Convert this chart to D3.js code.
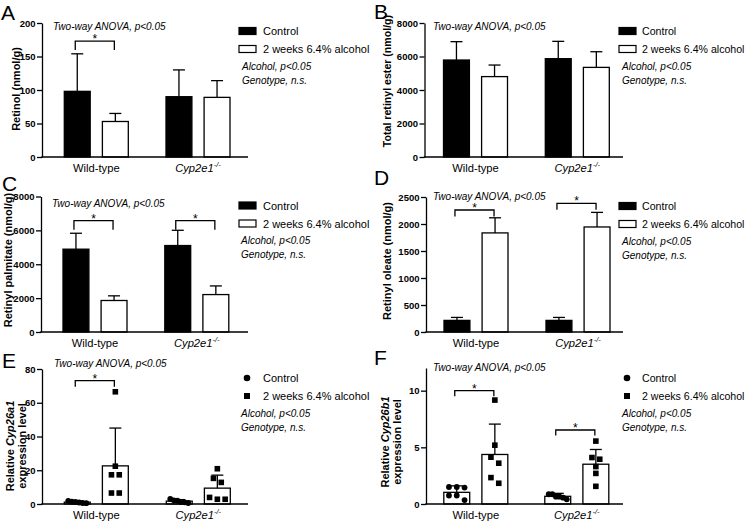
<!DOCTYPE html>
<html><head><meta charset="utf-8">
<script src="https://cdn.jsdelivr.net/npm/d3@7"></script>
<style>
body{margin:0;background:#fff;}
svg{display:block;}
</style></head><body>
<svg id="fig" width="749" height="522"></svg>
<script>
// ---------- data ----------
const groups = ["Wild-type", "Cyp2e1"];
const seriesNames = ["Control", "2 weeks 6.4% alcohol"];
const anovaText = "Two-way ANOVA, p<0.05";
const statLines = ["Alcohol, p<0.05", "Genotype, n.s."];

// A: retinol (nmol/g)
const retinolControl = [98, 90];
const retinolControlSD = [56, 40];
const retinolAlcohol = [53, 89];
const retinolAlcoholSD = [12, 25];
const retinolTicks = [0, 50, 100, 150, 200];

// B: total retinyl ester (nmol/g)
const esterControl = [5790, 5870];
const esterControlSD = [1095, 1035];
const esterAlcohol = [4800, 5350];
const esterAlcoholSD = [690, 935];
const esterTicks = [0, 2000, 4000, 6000, 8000];

// C: retinyl palmitate (nmol/g)
const palmitateControl = [4890, 5105];
const palmitateControlSD = [940, 900];
const palmitateAlcohol = [1860, 2210];
const palmitateAlcoholSD = [275, 510];
const palmitateTicks = [0, 2000, 4000, 6000, 8000];

// D: retinyl oleate (nmol/g)
const oleateControl = [215, 215];
const oleateControlSD = [55, 55];
const oleateAlcohol = [1835, 1945];
const oleateAlcoholSD = [280, 270];
const oleateTicks = [0, 500, 1000, 1500, 2000, 2500];

// E: relative Cyp26a1 expression
const cyp26a1Control = [1.1, 1.7];
const cyp26a1ControlSD = [0.5, 0.9];
const cyp26a1Alcohol = [22.6, 9.4];
const cyp26a1AlcoholSD = [22.4, 7.7];
const cyp26a1ControlPoints = [[1.9, 1.4, 1.2, 0.9, 0.6, 0.5], [3.0, 2.2, 2.0, 1.2, 1.0, 0.6]];
const cyp26a1AlcoholPoints = [[66.5, 22.4, 17.3, 17.3, 6.5, 6.5], [20.9, 15.2, 12.8, 3.9, 2.8, 2.8]];
const cyp26a1Ticks = [0, 20, 40, 60, 80];

// F: relative Cyp26b1 expression
const cyp26b1Control = [1.03, 0.68];
const cyp26b1ControlSD = [0.57, 0.26];
const cyp26b1Alcohol = [4.37, 3.51];
const cyp26b1AlcoholSD = [2.68, 1.30];
const cyp26b1ControlPoints = [[1.5, 1.5, 1.45, 0.75, 0.75, 0.35], [0.86, 0.86, 0.65, 0.65, 0.56, 0.41]];
const cyp26b1AlcoholPoints = [[9.17, 5.19, 4.13, 3.6, 2.33, 1.83], [5.55, 4.1, 3.95, 3.3, 2.7, 1.56]];
const cyp26b1Ticks = [0, 5, 10];

// significance brackets (data units; null = none)
const retinolSig = [173, null];
const palmitateSig = [6570, 6570];
const oleateSig = [2259, 2383];
const cyp26a1Sig = [73.1, null];
const cyp26b1Sig = [10, 6.53];

// ---------- drawing ----------
const FONT = '"Liberation Sans", Arial, Helvetica, sans-serif';
const svg = d3.select("#fig").attr("font-family", FONT);
const SW = 1.3;

function rowSwarm(vals, y) {
  const pts = vals.map(v => ({ v, py: y(v), dx: 0 }));
  const order = pts.slice().sort((a, b) => a.py - b.py);
  const rows = [];
  order.forEach(pt => {
    const r = rows[rows.length - 1];
    if (r && Math.abs(pt.py - r[0].py) < 6.5) r.push(pt); else rows.push([pt]);
  });
  rows.forEach(r => {
    const n = r.length;
    const sp = n > 1 ? Math.min(7.8, 18 / (n - 1)) : 0;
    r.forEach((pt, i) => pt.dx = (i - (n - 1) / 2) * sp);
  });
  return pts;
}

function drawPanel(p) {
  const g = svg.append("g");
  const y = d3.scaleLinear().domain(p.domain).range([p.bottom, p.top]);
  const xg = d3.scalePoint().domain(groups).range(p.centers);
  const xs = d3.scaleBand().domain(seriesNames).range([-32, 32]).paddingInner(0.32);
  const bw = xs.bandwidth();

  // bars + error bars
  p.series.forEach(s => {
    const rows = groups.map((grp, gi) => ({
      x0: xg(grp) + xs(s.name), m: s.mean[gi], sd: s.sd[gi]
    }));
    g.selectAll(null).data(rows).join("rect")
      .attr("x", d => d.x0).attr("y", d => y(d.m))
      .attr("width", bw).attr("height", d => y(0) - y(d.m))
      .attr("fill", s.fill).attr("stroke", "#000").attr("stroke-width", SW);
    g.selectAll(null).data(rows).join("line")
      .attr("x1", d => d.x0 + bw / 2).attr("x2", d => d.x0 + bw / 2)
      .attr("y1", d => y(d.m)).attr("y2", d => y(d.m + d.sd))
      .attr("stroke", "#000").attr("stroke-width", SW);
    g.selectAll(null).data(rows).join("line")
      .attr("x1", d => d.x0 + bw / 2 - 6).attr("x2", d => d.x0 + bw / 2 + 6)
      .attr("y1", d => y(d.m + d.sd)).attr("y2", d => y(d.m + d.sd))
      .attr("stroke", "#000").attr("stroke-width", SW);

    if (s.points) {
      groups.forEach((grp, gi) => {
        const cx = xg(grp) + xs(s.name) + bw / 2;
        const pts = rowSwarm(s.points[gi], y);
        if (s.shape === "circle") {
          g.selectAll(null).data(pts).join("circle")
            .attr("cx", d => cx + d.dx).attr("cy", d => d.py).attr("r", 2.9).attr("fill", "#000");
        } else {
          g.selectAll(null).data(pts).join("rect")
            .attr("x", d => cx + d.dx - 2.8).attr("y", d => d.py - 2.8)
            .attr("width", 5.6).attr("height", 5.6).attr("fill", "#000");
        }
      });
    }
  });

  // y axis
  const ya = g.append("g").attr("transform", `translate(${p.left},0)`)
    .call(d3.axisLeft(y).tickValues(p.ticks).tickFormat(d3.format("d"))
      .tickSize(5).tickPadding(1.5).tickSizeOuter(0));
  ya.select(".domain").attr("stroke", "#000").attr("stroke-width", SW);
  ya.selectAll(".tick line").attr("stroke", "#000").attr("stroke-width", SW);
  ya.selectAll(".tick text").attr("font-size", 9.5).attr("font-weight", "bold")
    .attr("font-family", FONT).attr("fill", "#000");

  // x axis baseline
  g.append("line").attr("x1", p.left - SW / 2).attr("x2", p.right)
    .attr("y1", y(0)).attr("y2", y(0)).attr("stroke", "#000").attr("stroke-width", SW);

  // category labels
  groups.forEach(grp => {
    const t = g.append("text").attr("x", xg(grp)).attr("y", y(0) + 14.5)
      .attr("text-anchor", "middle").attr("font-size", 11.2).attr("fill", "#000");
    if (grp === "Cyp2e1") {
      t.append("tspan").attr("font-style", "italic").text("Cyp2e1");
      t.append("tspan").attr("font-style", "italic").attr("font-size", 7.5).attr("dy", -4.5).text("-/-");
    } else t.text(grp);
  });

  // y title
  p.title.forEach((line, i) => {
    const t = g.append("text")
      .attr("transform", `translate(${p.titleX[i]},${p.titleY}) rotate(-90)`)
      .attr("text-anchor", "middle").attr("font-size", p.titleFs || 11).attr("font-weight", "bold").attr("fill", "#000");
    line.forEach(part => t.append("tspan").attr("font-style", part.it ? "italic" : "normal").text(part.t));
  });

  // panel letter
  g.append("text").attr("x", p.letterPos[0]).attr("y", p.letterPos[1])
    .attr("font-size", 21).attr("fill", "#000").text(p.letter);

  // ANOVA text
  g.append("text").attr("x", p.anova[0]).attr("y", p.anova[1])
    .attr("font-size", 10).attr("font-style", "italic").attr("fill", "#000").text(anovaText);

  // significance brackets
  p.sig.forEach((s, gi) => {
    if (s == null) return;
    const x1 = xg(groups[gi]) + xs(seriesNames[0]) + bw / 2 - 2;
    const x2 = xg(groups[gi]) + xs(seriesNames[1]) + bw / 2 - 1;
    const yt = y(s);
    g.append("path").attr("d", `M${x1},${yt + p.leg}V${yt}H${x2}V${yt + p.leg}`)
      .attr("fill", "none").attr("stroke", "#000").attr("stroke-width", SW);
    g.append("text").attr("x", (x1 + x2) / 2).attr("y", yt + 2)
      .attr("text-anchor", "middle").attr("font-size", 12).attr("fill", "#000").text("*");
  });

  // legend
  const L = p.legend;
  seriesNames.forEach((name, i) => {
    const cy = L.y + i * 18;
    const s = p.series[i];
    if (s.points) {
      if (s.shape === "circle")
        g.append("circle").attr("cx", L.mark).attr("cy", cy).attr("r", 3.3).attr("fill", "#000");
      else
        g.append("rect").attr("x", L.mark - 3).attr("y", cy - 3).attr("width", 6).attr("height", 6).attr("fill", "#000");
    } else {
      g.append("rect").attr("x", L.mark).attr("y", cy - 3.5).attr("width", 17).attr("height", 7)
        .attr("fill", s.fill).attr("stroke", "#000").attr("stroke-width", 1.2);
    }
    g.append("text").attr("x", L.text).attr("y", cy + 4.2).attr("font-size", L.fs).attr("fill", "#000").text(name);
  });
  statLines.forEach((line, i) => {
    g.append("text").attr("x", L.stat).attr("y", L.y + 38.5 + i * 14)
      .attr("font-size", 10).attr("font-style", "italic").attr("fill", "#000").text(line);
  });
}

const barSeries = (c, csd, a, asd) => [
  { name: seriesNames[0], mean: c, sd: csd, fill: "#000" },
  { name: seriesNames[1], mean: a, sd: asd, fill: "#fff" }
];
const dotSeries = (c, csd, cp, a, asd, ap) => [
  { name: seriesNames[0], mean: c, sd: csd, fill: "#fff", points: cp, shape: "circle" },
  { name: seriesNames[1], mean: a, sd: asd, fill: "#fff", points: ap, shape: "square" }
];

const panels = [
  { letter: "A", letterPos: [1, 20], left: 42, right: 248, top: 23, bottom: 157, centers: [96.3, 198],
    domain: [0, 200], ticks: retinolTicks,
    series: barSeries(retinolControl, retinolControlSD, retinolAlcohol, retinolAlcoholSD),
    title: [[{ t: "Retinol (nmol/g)" }]], titleX: [19.5], titleY: 89,
    anova: [53, 30], legend: { mark: 239, text: 263, stat: 242, y: 31, fs: 11 }, sig: retinolSig, leg: 9 },
  { letter: "B", letterPos: [374, 18.5], left: 424.5, right: 623, top: 23, bottom: 157, centers: [475.5, 577.3],
    domain: [0, 8000], ticks: esterTicks,
    series: barSeries(esterControl, esterControlSD, esterAlcohol, esterAlcoholSD),
    title: [[{ t: "Total retinyl ester (nmol/g)" }]], titleX: [391], titleY: 81, titleFs: 10.6,
    anova: [433, 30], legend: { mark: 619, text: 642, stat: 622, y: 31, fs: 10.6 }, sig: [null, null], leg: 9 },
  { letter: "C", letterPos: [2, 191], left: 41, right: 248, top: 196.5, bottom: 332, centers: [95, 196.8],
    domain: [0, 8000], ticks: palmitateTicks,
    series: barSeries(palmitateControl, palmitateControlSD, palmitateAlcohol, palmitateAlcoholSD),
    title: [[{ t: "Retinyl palmitate (nmol/g)" }]], titleX: [11.5], titleY: 260,
    anova: [52, 207], legend: { mark: 239, text: 263, stat: 241, y: 205.5, fs: 11 }, sig: palmitateSig, leg: 9 },
  { letter: "D", letterPos: [374, 185], left: 426, right: 623, top: 197, bottom: 332, centers: [476, 578],
    domain: [0, 2500], ticks: oleateTicks,
    series: barSeries(oleateControl, oleateControlSD, oleateAlcohol, oleateAlcoholSD),
    title: [[{ t: "Retinyl oleate (nmol/g)" }]], titleX: [391], titleY: 261,
    anova: [433, 200], legend: { mark: 619, text: 642, stat: 622, y: 206, fs: 10.6 }, sig: oleateSig, leg: 6.5 },
  { letter: "E", letterPos: [2, 368], left: 42, right: 248, top: 369, bottom: 504, centers: [96.3, 198.3],
    domain: [0, 80], ticks: cyp26a1Ticks,
    series: dotSeries(cyp26a1Control, cyp26a1ControlSD, cyp26a1ControlPoints, cyp26a1Alcohol, cyp26a1AlcoholSD, cyp26a1AlcoholPoints),
    title: [[{ t: "Relative " }, { t: "Cyp26a1", it: true }], [{ t: "expression level" }]], titleX: [14, 25.5], titleY: 446,
    anova: [54, 367], legend: { mark: 247, text: 263, stat: 241, y: 378, fs: 11 }, sig: cyp26a1Sig, leg: 6 },
  { letter: "F", letterPos: [374, 365], left: 426, right: 623, top: 368, bottom: 504, centers: [475.8, 576.8],
    domain: [0, 12], ticks: cyp26b1Ticks,
    series: dotSeries(cyp26b1Control, cyp26b1ControlSD, cyp26b1ControlPoints, cyp26b1Alcohol, cyp26b1AlcoholSD, cyp26b1AlcoholPoints),
    title: [[{ t: "Relative " }, { t: "Cyp26b1", it: true }], [{ t: "expression level" }]], titleX: [389, 400.5], titleY: 442,
    anova: [433, 371], legend: { mark: 627, text: 642, stat: 622, y: 378, fs: 10.6 }, sig: cyp26b1Sig, leg: 5.5 }
];

panels.forEach(drawPanel);
</script>
</body></html>
